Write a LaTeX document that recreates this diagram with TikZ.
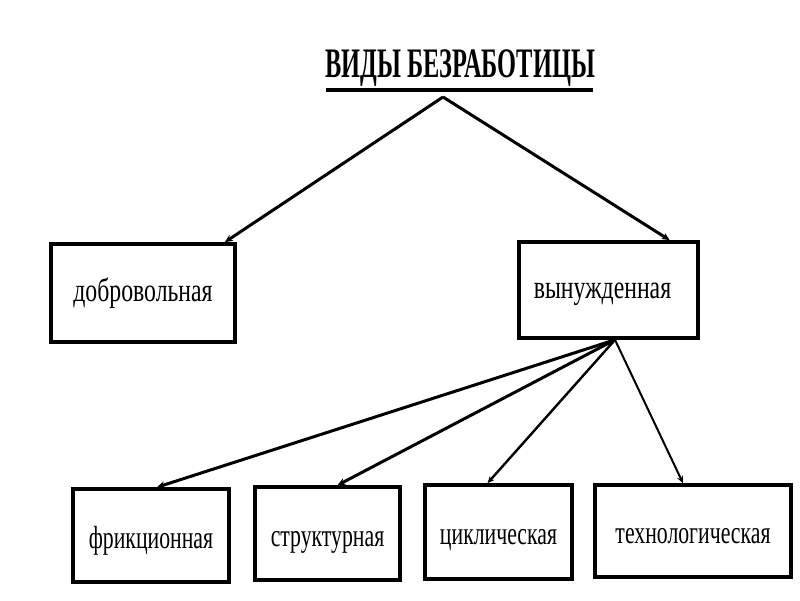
\documentclass[tikz,border=0pt]{standalone}
\usepackage{fontspec}
\setmainfont{Liberation Serif}
\newfontfamily\boxfont[FakeStretch=0.72]{Liberation Serif}
\newfontfamily\lowfont[FakeStretch=0.68]{Liberation Serif}
\newfontfamily\titlefont[FakeStretch=0.58]{Liberation Serif}
\usetikzlibrary{arrows.meta}
\begin{document}
\begin{tikzpicture}[x=1pt,y=-1pt,
  box/.style={draw=black,line width=3.6pt,rectangle,inner sep=0pt,text height=22pt,text depth=6pt,font=\boxfont\fontsize{33}{33}\selectfont},
  lowbox/.style={box,text height=30pt,text depth=5pt,font=\lowfont\fontsize{32}{32}\selectfont},
  conn/.style={draw=black,line width=3pt,-{Stealth[length=8pt,width=7pt]}},
  thinconn/.style={draw=black,line width=2pt,-{Stealth[length=7pt,width=6pt]}}]
\useasboundingbox (0,0) rectangle (800,600);
\fill[white] (0,0) rectangle (800,600);
\node[font=\titlefont\bfseries\fontsize{42}{42}\selectfont,inner sep=0pt] (title) at (460,68) {ВИДЫ БЕЗРАБОТИЦЫ};
\coordinate (ulL) at (326,90);
\coordinate (ulR) at (593,90);
\draw[line width=3.5pt] (ulL) -- (ulR);
\coordinate (apex) at (443,97);
\node[box,minimum width=184pt,minimum height=98pt] (dobr) at (143,293) {добровольная};
\node[box,minimum width=179pt,minimum height=96pt] (vyn) at (608.5,290) {вынужденная\hspace*{12pt}};
\node[lowbox,minimum width=156pt,minimum height=93pt] (fr) at (151,535.5) {фрикционная};
\node[lowbox,minimum width=145pt,minimum height=93pt] (st) at (327.5,533.5) {структурная};
\node[lowbox,minimum width=147pt,minimum height=94pt] (cy) at (498.5,532) {циклическая};
\node[lowbox,minimum width=196pt,minimum height=92pt] (te) at (693,531) {технологическая};
\draw[conn] (apex) -- ([xshift=-12pt]dobr.north east);
\draw[conn] (apex) -- ([xshift=-30pt]vyn.north east);
\coordinate (src) at ([xshift=6.5pt]vyn.south);
\draw[conn] (src) -- ([xshift=6pt]fr.north);
\draw[conn] (src) -- ([xshift=10pt]st.north);
\draw[thinconn,line width=2.4pt] (src) -- ([xshift=-11pt]cy.north);
\draw[thinconn] (src) -- ([xshift=-10pt]te.north);
\end{tikzpicture}
\end{document}
